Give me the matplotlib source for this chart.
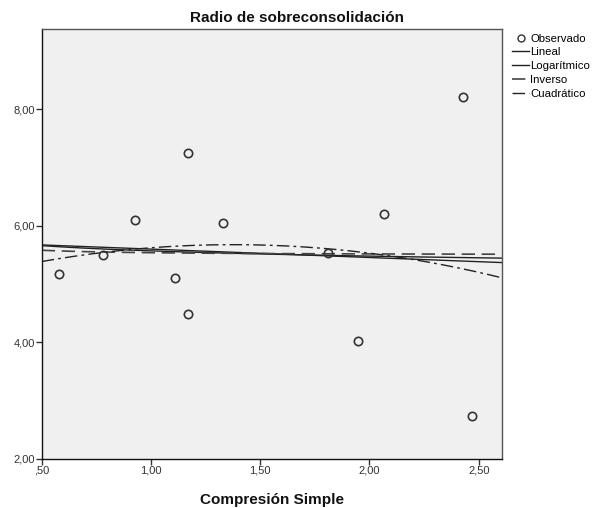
import numpy as np
import matplotlib
matplotlib.use("Agg")
import matplotlib.pyplot as plt
from matplotlib.lines import Line2D

plt.rcParams['font.family'] = ['Liberation Sans', 'DejaVu Sans']

# Observed data
compresion = [0.579, 0.779, 0.928, 1.109, 1.17, 1.17, 1.328, 1.808, 1.949, 2.068, 2.428, 2.469]
radio = [5.18, 5.50, 6.10, 5.10, 7.25, 4.48, 6.05, 5.54, 4.02, 6.21, 8.20, 2.73]

x_ticks = [0.5, 1.0, 1.5, 2.0, 2.5]
x_ticklabels = [',50', '1,00', '1,50', '2,00', '2,50']
y_ticks = [2, 4, 6, 8]
y_ticklabels = ['2,00', '4,00', '6,00', '8,00']

legend_labels = ['Observado', 'Lineal', 'Logarítmico', 'Inverso', 'Cuadrático']

x = np.array(compresion)
y = np.array(radio)

fig = plt.figure(figsize=(5.94, 5.08), dpi=100)
ax = fig.add_axes([0.0702, 0.0965, 0.8446 - 0.0702, 0.943 - 0.0965])
ax.set_facecolor('#f0f0f0')

xmin, xmax = 0.5, 2.605
xx = np.linspace(xmin, xmax, 300)

# regression fits from observed data
b_lin = np.polyfit(x, y, 1)
b_log = np.polyfit(np.log(x), y, 1)
b_inv = np.polyfit(1 / x, y, 1)
b_quad = np.polyfit(x, y, 2)

lc = '#222222'
dash_inv = (0, (8, 4))
dash_quad = (0, (9, 3, 2, 3))
ax.plot(xx, np.polyval(b_lin, xx), color=lc, lw=1.0, ls='-')
ax.plot(xx, np.polyval(b_log, np.log(xx)), color=lc, lw=1.0, ls='-')
ax.plot(xx, np.polyval(b_inv, 1 / xx), color='#444444', lw=1.2, ls=dash_inv)
ax.plot(xx, np.polyval(b_quad, xx), color=lc, lw=1.0, ls=dash_quad)

ax.plot(x, y, 'o', mfc='none', mec='#333333', mew=1.2, ms=6, ls='none', zorder=5)

ax.set_xlim(xmin, xmax)
ax.set_ylim(2, 9.375)
ax.set_xticks(x_ticks)
ax.set_xticklabels(x_ticklabels)
ax.set_yticks(y_ticks)
ax.set_yticklabels(y_ticklabels)
ax.tick_params(axis='both', direction='out', length=4, width=1, labelsize=8,
               labelcolor='#333333', color='#333333', pad=1)
for s in ['top', 'right']:
    ax.spines[s].set_color('#555555')
    ax.spines[s].set_linewidth(1.0)
for s in ['left', 'bottom']:
    ax.spines[s].set_color('#111111')
    ax.spines[s].set_linewidth(1.0)

ax.set_xlabel('Compresión Simple', fontsize=11, fontweight='bold', labelpad=12, color='#111111')
fig.suptitle('Radio de sobreconsolidación', x=0.5, y=0.978, fontsize=11, fontweight='bold', color='#111111')

handles = [
    Line2D([], [], marker='o', mfc='none', mec='#333333', mew=1.0, ms=5, ls='none'),
    Line2D([], [], color=lc, lw=1.0, ls='-'),
    Line2D([], [], color=lc, lw=1.0, ls='-'),
    Line2D([], [], color='#444444', lw=1.2, ls=dash_inv),
    Line2D([], [], color=lc, lw=1.0, ls=dash_quad),
]
fig.legend(handles, legend_labels, loc='upper left', bbox_to_anchor=(0.862, 0.934),
           frameon=False, fontsize=8.2, handlelength=1.5, handletextpad=0.1,
           labelspacing=0.33, borderaxespad=0, borderpad=0)

fig.savefig('out.png', dpi=100)
